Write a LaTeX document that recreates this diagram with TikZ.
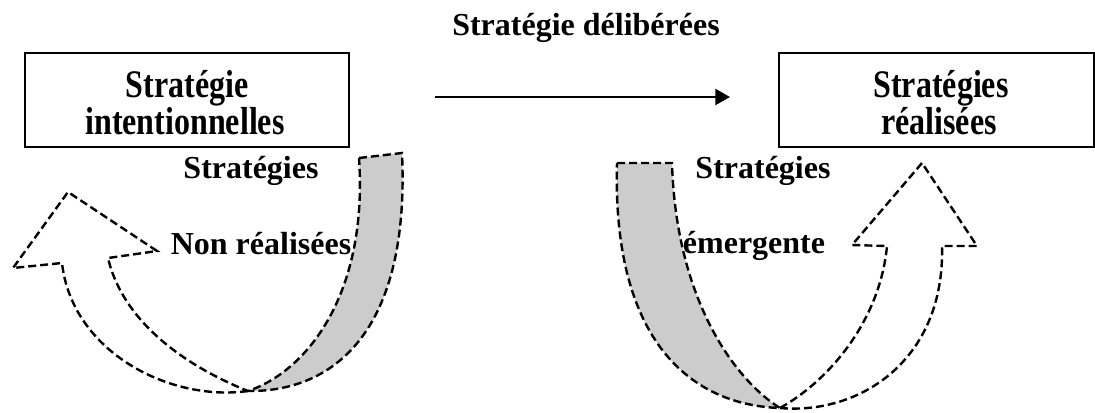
\documentclass[tikz,border=0pt]{standalone}
\usepackage{fontspec}
\usepackage{graphicx}
\setmainfont{Liberation Serif}
\usetikzlibrary{arrows.meta}
\definecolor{backside}{HTML}{CCCCCC}
% box captions are set a little taller than wide
\newcommand{\tallword}[1]{\scalebox{1}[1.22]{#1}}
\begin{document}
\begin{tikzpicture}[x=0.75pt,y=-0.75pt,
  txt/.style={font=\bfseries\fontsize{24}{27}\selectfont, inner sep=0pt, anchor=base},
  framebox/.style={draw, line width=1.4pt, inner sep=0pt},
  ribbon/.style={draw, line width=1.8pt, dash pattern=on 6pt off 3pt, line join=miter},
  flow/.style={line width=1.8pt, -{Triangle[length=11pt,width=12pt]}}]
\useasboundingbox (0,0) rectangle (1095,412);

% heading over the main arrow
\node[txt] (title) at (586,35) {Stratégie délibérées};

% the two boxes
\node[framebox, minimum width=243pt, minimum height=70.5pt] (intent) at (187,100) {};
\node[txt] (intentA) at (187,97) {\tallword{Stratégie}};
\node[txt] (intentB) at (185,134) {\tallword{intentionnelles}};

\node[framebox, minimum width=236pt, minimum height=70.5pt] (real) at (936.5,100) {};
\node[txt] (realA) at (941,97) {\tallword{Stratégies}};
\node[txt] (realB) at (939,134) {\tallword{réalisées}};

% deliberate strategy arrow
\coordinate (a1) at (435,97);
\coordinate (a2) at (730,97);
\draw[flow] (a1) -- (a2);

% ---- left ribbon: unrealised strategies ----
\coordinate (LP) at (248,391);
% back face (shaded)
\fill[backside] (359,158) -- (402,153)
   .. controls (410,330) and (335,392) .. (LP)
   .. controls (310,370) and (368,290) .. (359,158) -- cycle;
\draw[ribbon] (359,158) -- (402,153)
   .. controls (410,330) and (335,392) .. (LP)
   .. controls (310,370) and (368,290) .. (359,158) -- cycle;
% front face with arrow head
\draw[ribbon, fill=white] (LP)
   .. controls (170,402) and (72,352) .. (62,263)
   -- (13,268) -- (68,192) -- (157,251) -- (108,258)
   .. controls (125,330) and (200,372) .. (LP) -- cycle;

% ---- right ribbon: emergent strategies ----
\coordinate (RP) at (780,408);
\fill[backside] (617,163) -- (672,163)
   .. controls (676,300) and (735,380) .. (RP)
   .. controls (690,405) and (612,340) .. (617,163) -- cycle;
\draw[ribbon] (617,163) -- (672,163)
   .. controls (676,300) and (735,380) .. (RP)
   .. controls (690,405) and (612,340) .. (617,163) -- cycle;
\draw[ribbon, fill=white] (RP)
   .. controls (860,415) and (945,360) .. (942,246)
   -- (977,246) -- (922,163) -- (852,245) -- (887,246)
   .. controls (880,320) and (830,380) .. (RP) -- cycle;

% ribbon captions
\node[txt] (nrA) at (251,178) {Stratégies};
\node[txt] (nrB) at (261,254) {Non réalisées};
\node[txt] (emA) at (763,178) {Stratégies};
\node[txt] (emB) at (754,253) {émergente};
\end{tikzpicture}
\end{document}
